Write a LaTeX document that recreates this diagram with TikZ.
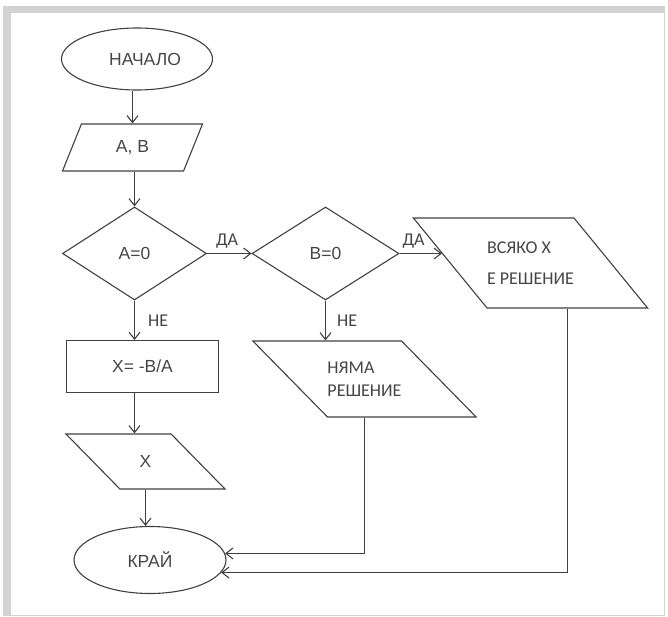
\documentclass[tikz,border=0pt]{standalone}
\usepackage{fontspec}
\setmainfont{Liberation Sans}
\newfontfamily\calibri{Carlito}
\usepackage{tikz}
\usetikzlibrary{shapes.geometric,arrows.meta,positioning,calc}

\definecolor{ink}{HTML}{404040}
\definecolor{txt}{HTML}{454545}
\definecolor{frame}{HTML}{D3D3D3}

\begin{document}
\begin{tikzpicture}[x=1pt,y=-1pt,
  every node/.style={font=\fontsize{17.5}{20}\selectfont, text=txt, inner sep=0pt},
  box/.style={draw=ink, line width=1.1pt},
  term/.style={box, ellipse},
  test/.style={box, diamond},
  io/.style={box, trapezium, trapezium stretches body},
  ans/.style={font=\calibri\fontsize{18}{20}\selectfont},
  flow/.style={draw=ink, line width=1.1pt, -{Straight Barb[length=7pt,width=11pt]}}]
  \useasboundingbox (0,0) rectangle (668,617);
  % Frame
  \fill[frame] (3,6) rectangle (665,13);
  \fill[frame] (3,6) rectangle (11,616);
  \draw[frame, line width=1pt] (11,615) -- (664,615) -- (664,13);
  % Blocks
  \node[term, minimum width=151pt, minimum height=62pt] (start) at (137,59) {\hspace*{16pt}НАЧАЛО};
  \node[io, inner ysep=16.3pt, trapezium left angle=68, trapezium right angle=112,
        minimum width=140pt, minimum height=47pt] (AB) at (132.5,147.5) {A, B};
  \node[test, minimum width=144pt, minimum height=93pt] (A0) at (134.5,253.5) {A=0};
  \node[test, minimum width=147pt, minimum height=93pt] (B0) at (325.5,253.5) {B=0};
  \node[io, ans, align=left, inner ysep=23.5pt, trapezium left angle=129.4, trapezium right angle=50.6,
        minimum width=219pt, minimum height=90pt] (vsyako) at (530.5,263) {ВСЯКО Х\\[11pt]Е РЕШЕНИЕ};
  \node[box, line width=0.9pt, minimum width=152pt, minimum height=52pt] (solve) at (142.5,366.5) {X= -B/A};
  \node[io, ans, align=left, inner ysep=20.3pt, trapezium left angle=134.6, trapezium right angle=45.4,
        minimum width=218pt, minimum height=76pt] (nyama) at (364.5,379) {НЯМА\\[3.5pt]РЕШЕНИЕ};
  \node[io, inner ysep=21.4pt, trapezium left angle=134.5, trapezium right angle=45.5,
        minimum width=159pt, minimum height=55pt] (X) at (145.5,461.5) {X};
  \node[term, minimum width=152pt, minimum height=67pt] (end) at (150,560) {КРАЙ};
  % Connectors
  \draw[flow] (AB.north |- start.south) -- (AB.north);
  \draw[flow] (A0.north |- AB.south) -- (A0.north);
  \draw[flow] (A0.east) -- node[ans, above=5pt, pos=.45]{ДА} (B0.west);
  \draw[flow] (B0.east) -- node[ans, above=5pt, pos=.33]{ДА} (B0.east -| vsyako.174);
  \draw[flow] (A0.south) -- node[ans, right=13pt]{НЕ} (A0.south |- solve.north);
  \draw[flow] (B0.south) -- node[ans, right=11pt]{НЕ} (B0.south |- nyama.north);
  \draw[flow] (solve.south -| A0.south) -- (A0.south |- X.north);
  \draw[flow] (X.south) -- (X.south |- end.north);
  \draw[flow] (nyama.south) |- (end.5);
  \draw[flow] (vsyako.bottom side) |- (end.-10);
\end{tikzpicture}
\end{document}
